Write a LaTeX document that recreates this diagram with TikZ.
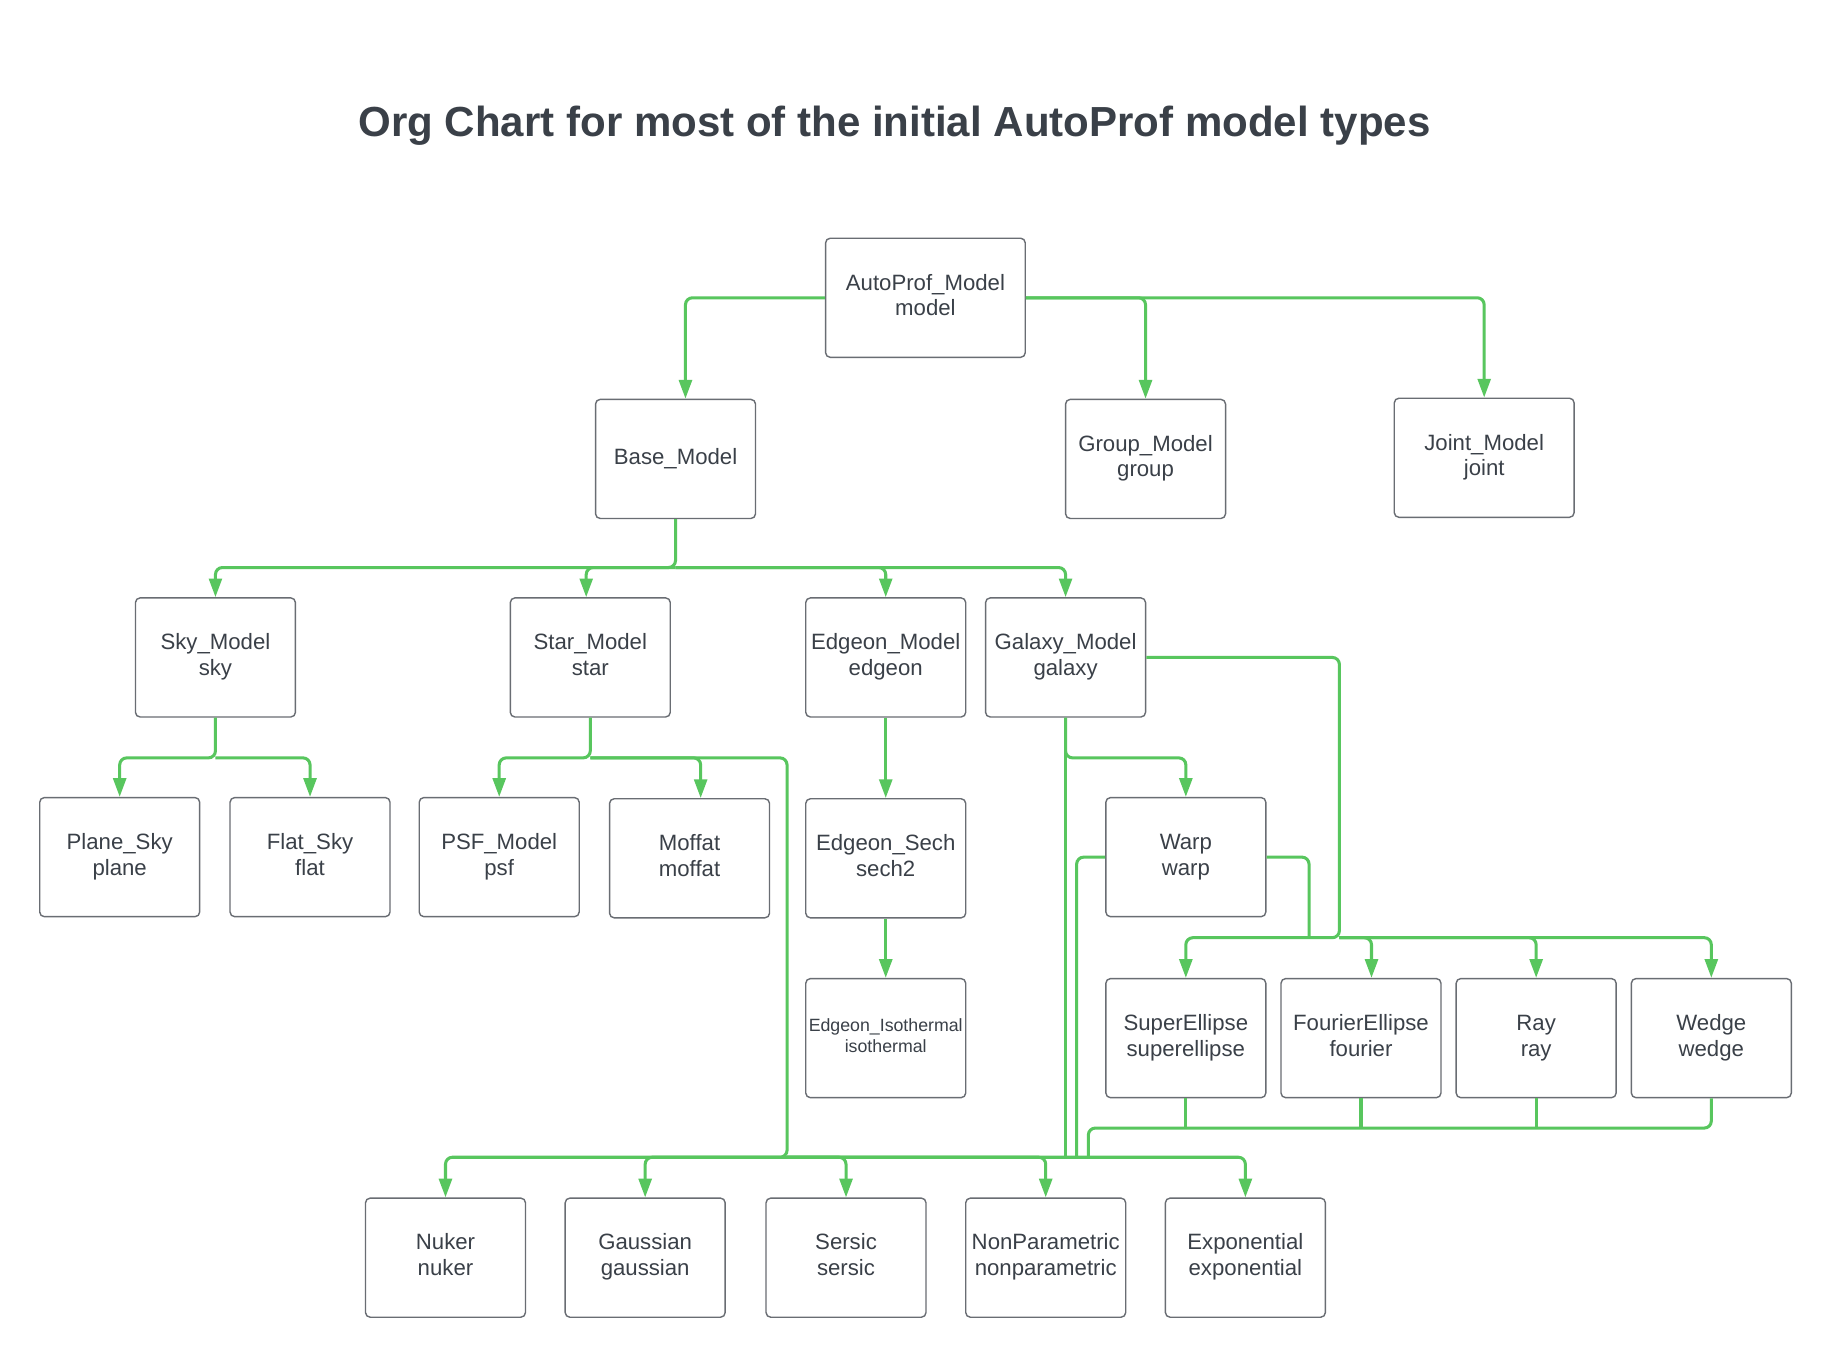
\documentclass[tikz,border=0pt]{standalone}
\usepackage{fontspec}
\setmainfont{Liberation Sans}
\usetikzlibrary{calc,arrows.meta}
\definecolor{lgreen}{RGB}{88,198,94}
\definecolor{txt}{RGB}{58,64,72}
\definecolor{bord}{RGB}{105,109,115}
\newcommand\twol[2]{\strut #1\\\strut #2}
\tikzset{
  box/.style={draw=bord, line width=0.6pt, rounded corners=2pt, fill=white,
    minimum width=68.5pt, minimum height=51pt, inner sep=1pt, align=center,
    text=txt, font=\fontsize{9.5}{11}\selectfont},
  conn/.style={draw=lgreen, line width=1.3pt, rounded corners=3pt,
    -{Triangle[length=8pt,width=5.5pt]}},
  link/.style={draw=lgreen, line width=1.3pt, rounded corners=3pt},
}
\begin{document}
\begin{tikzpicture}[x=0.5pt,y=-0.5pt]
\useasboundingbox[fill=white] (0,0) rectangle (1568,1163);
\node[text=txt, font=\bfseries\fontsize{18}{22}\selectfont] (title) at (766,108) {Org Chart for most of the initial AutoProf model types};

\node[box, minimum width=85.5pt] (auto) at (792.5,255) {\twol{AutoProf\_Model}{model}};
\node[box] (base) at (578.5,393) {\strut Base\_Model};
\node[box] (group) at (981,393) {\twol{Group\_Model}{group}};
\node[box, minimum width=77pt] (joint) at (1271,392) {\twol{Joint\_Model}{joint}};

\node[box] (sky) at (184.5,563) {\twol{Sky\_Model}{sky}};
\node[box] (star) at (505.5,563) {\twol{Star\_Model}{star}};
\node[box] (edgeon) at (758.5,563) {\twol{Edgeon\_Model}{edgeon}};
\node[box] (galaxy) at (912.5,563) {\twol{Galaxy\_Model}{galaxy}};

\node[box] (plane) at (102.5,734) {\twol{Plane\_Sky}{plane}};
\node[box] (flat) at (265.5,734) {\twol{Flat\_Sky}{flat}};
\node[box] (psf) at (427.5,734) {\twol{PSF\_Model}{psf}};
\node[box] (moffat) at (590.5,735) {\twol{Moffat}{moffat}};
\node[box] (sech) at (758.5,735) {\twol{Edgeon\_Sech}{sech2}};
\node[box] (warp) at (1015.5,734) {\twol{Warp}{warp}};

\node[box, font=\fontsize{7.6}{9}\selectfont] (iso) at (758.5,889) {\twol{Edgeon\_Isothermal}{isothermal}};
\node[box] (superell) at (1015.5,889) {\twol{SuperEllipse}{superellipse}};
\node[box] (fourier) at (1165.5,889) {\twol{FourierEllipse}{fourier}};
\node[box] (ray) at (1315.5,889) {\twol{Ray}{ray}};
\node[box] (wedge) at (1465.5,889) {\twol{Wedge}{wedge}};

\node[box] (nuker) at (381.5,1077) {\twol{Nuker}{nuker}};
\node[box] (gauss) at (552.5,1077) {\twol{Gaussian}{gaussian}};
\node[box] (sersic) at (724.5,1077) {\twol{Sersic}{sersic}};
\node[box] (nonpar) at (895.5,1077) {\twol{NonParametric}{nonparametric}};
\node[box] (expo) at (1066.5,1077) {\twol{Exponential}{exponential}};

% junction coordinates
\coordinate (bj) at (578.5,486);
\coordinate (skj) at (184.5,649);
\coordinate (stj) at (505.5,649);
\coordinate (gj) at (912.5,649);
\coordinate (bus) at (674,991);
\coordinate (gbus) at (1147,803);
\coordinate (wj) at (1121,803);
\coordinate (lb) at (932,966);

% top level
\draw[conn] (auto.west) -| ($(base.north)+(8.5,0)$);
\draw[conn] (auto.east) -| (group.north);
\draw[conn] (auto.east) -| (joint.north);

% base children
\draw[conn] (base.south) -- (bj) -| (sky.north);
\draw[conn] (bj) -| ($(star.north)+(-3.5,0)$);
\draw[conn] (bj) -| (edgeon.north);
\draw[conn] (bj) -| (galaxy.north);

% sky children
\draw[conn] (sky.south) -- (skj) -| (plane.north);
\draw[conn] (skj) -| (flat.north);

% star children
\draw[conn] (star.south) -- (stj) -| (psf.north);
\draw[conn] (stj) -| ($(moffat.north)+(9.5,0)$);
\draw[conn] (stj) -| (bus) -| (nuker.north);
\draw[conn] (bus) -| (gauss.north);
\draw[conn] (bus) -| (sersic.north);
\draw[conn] (bus) -| (nonpar.north);
\draw[conn] (bus) -| (expo.north);

% edgeon chain
\draw[conn] (edgeon.south) -- (sech.north);
\draw[conn] (sech.south) -- (iso.north);

% galaxy children
\draw[conn] (galaxy.south) -- (gj) -| (warp.north);
\draw[link] (galaxy.south) -- (galaxy.south |- bus);
\draw[link] (warp.west) -| (922,991);
\draw[conn] (galaxy.east) -| (gbus) -| (superell.north);
\draw[conn] (gbus) -| ($(fourier.north)+(9,0)$);
\draw[conn] (gbus) -| (ray.north);
\draw[conn] (gbus) -| (wedge.north);
\draw[link] (warp.east) -| (wj);

% isophote models to bottom bus
\draw[link] (wedge.south) |- (lb) -- (lb |- bus);
\draw[link] (superell.south) -- (superell.south |- lb);
\draw[link] (fourier.south) -- (fourier.south |- lb);
\draw[link] (ray.south) -- (ray.south |- lb);
\end{tikzpicture}
\end{document}
